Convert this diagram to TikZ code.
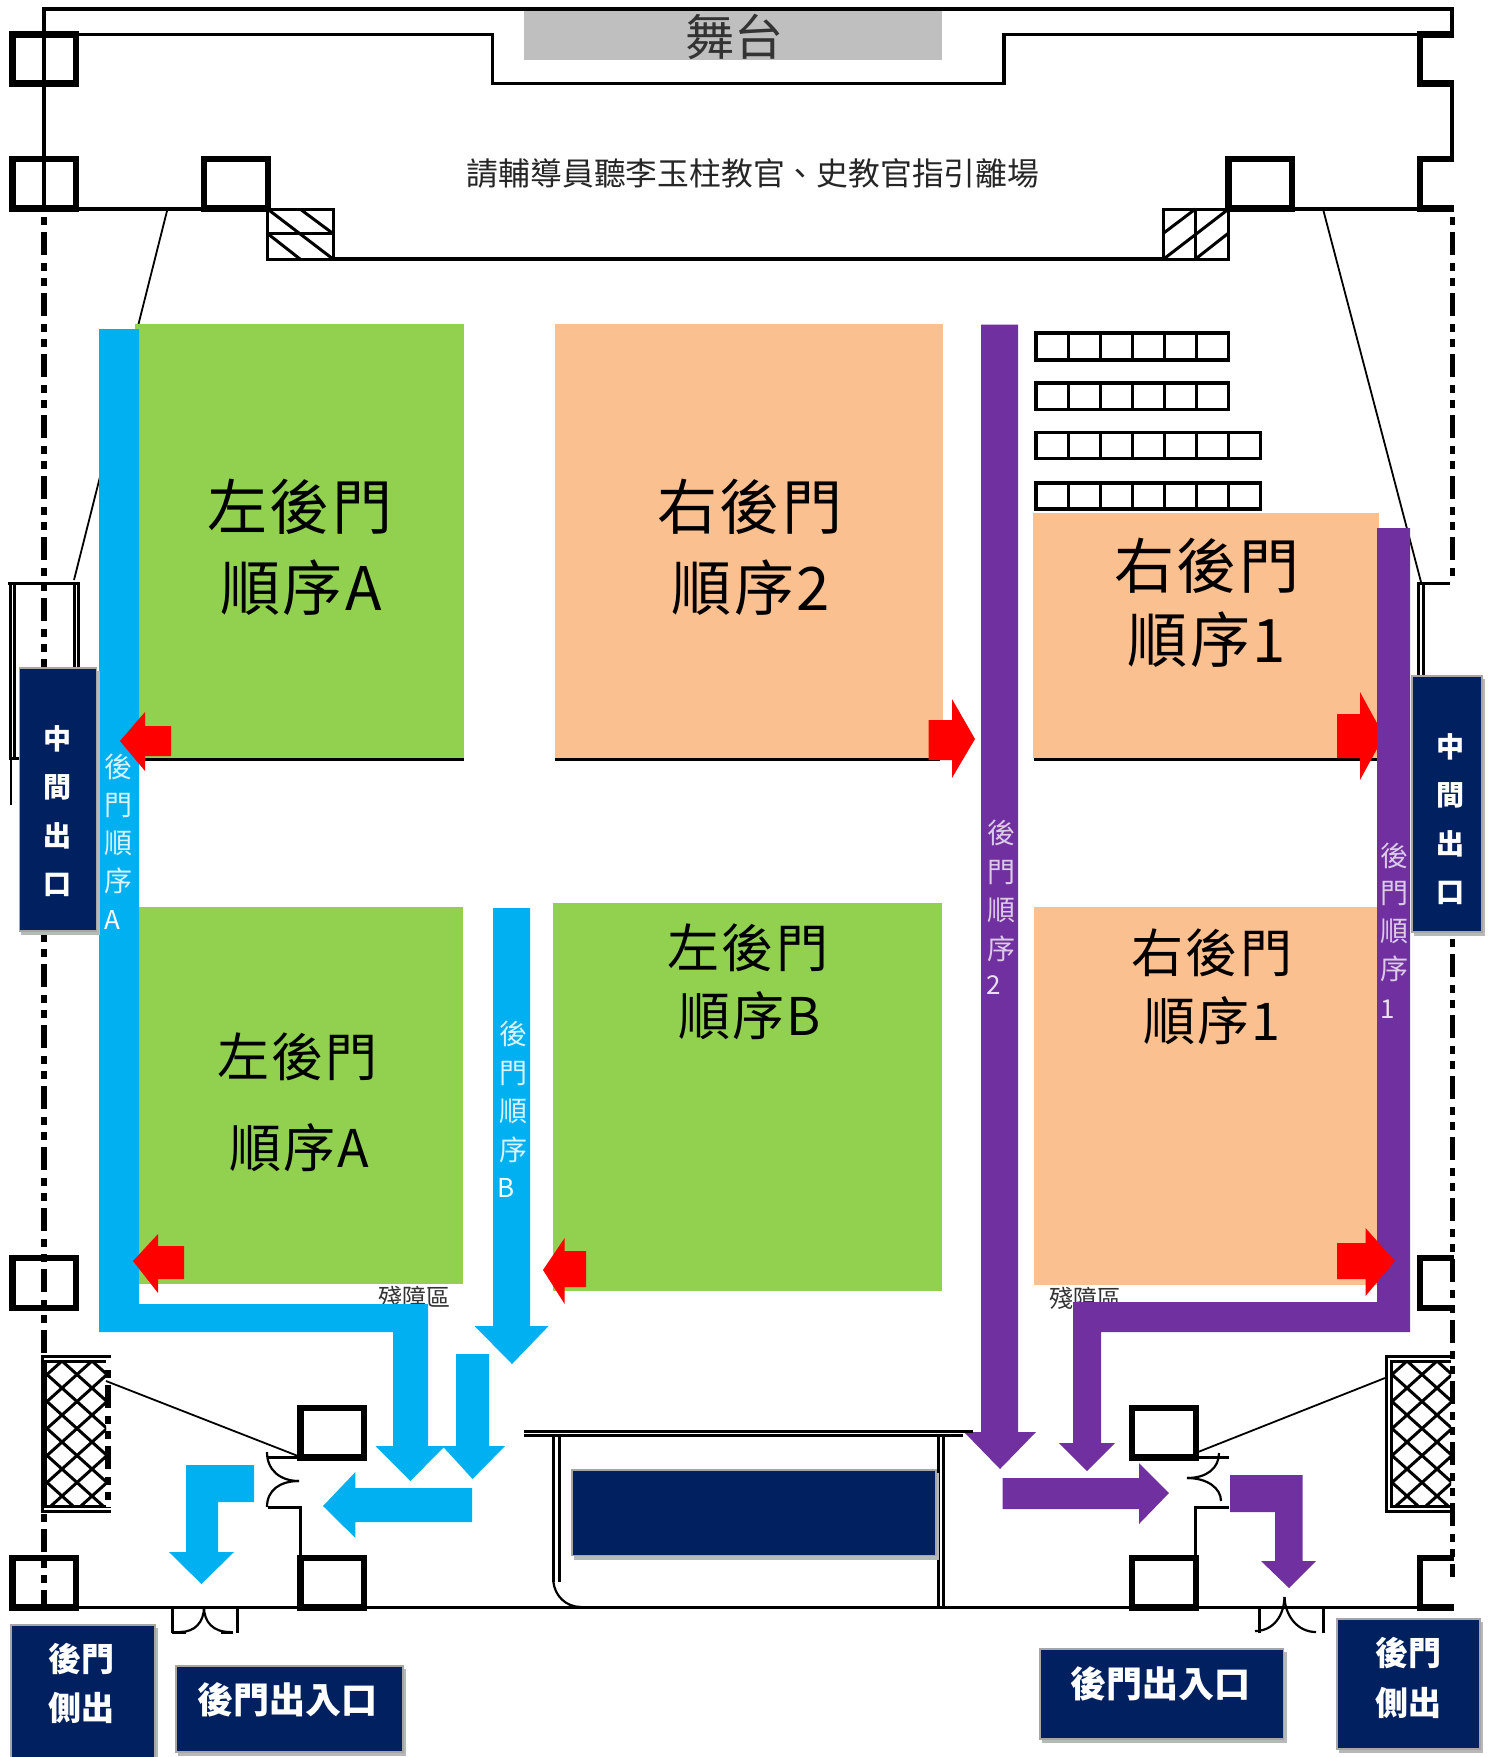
\documentclass[tikz,border=0pt]{standalone}
\usepackage{fontspec}
\setmainfont{Noto Sans CJK TC}
\newfontfamily\widefont[LetterSpace=4]{Noto Sans CJK TC}
\usetikzlibrary{calc}
\definecolor{cblue}{HTML}{00B0F0}
\definecolor{cpurple}{HTML}{7030A0}
\definecolor{cgreen}{HTML}{92D050}
\definecolor{corange}{HTML}{FAC090}
\definecolor{cnavy}{HTML}{002060}
\definecolor{cgray}{HTML}{BFBFBF}
\newcommand{\fs}[1]{\fontsize{#1}{#1}\selectfont}
\tikzset{
  wall/.style={draw=black,line width=3.2pt,line join=miter},
  thin wall/.style={draw=black,line width=3pt},
  pillar/.style={draw=black,line width=6.5pt,line join=miter},
  dashwall/.style={draw=black,line width=5.8pt,dash pattern=on 23pt off 8pt on 8pt off 7pt on 8pt off 7pt,dash phase=46pt},
  seat/.style={draw=black,line width=3.2pt},
  leader/.style={draw=black,line width=1.8pt},
  door/.style={draw=black,line width=2.2pt},
  blue/.style={fill=cblue,draw=none},
  purple/.style={fill=cpurple,draw=none},
  red/.style={fill=red,draw=none},
  navy/.style={fill=cnavy,draw=black!35,line width=1.2pt},
  shadow/.style={fill=black!28,draw=none},
  big/.style={inner sep=0pt,align=center,text=black},
  side/.style={inner sep=0pt,align=center,text=white},
  route/.style={inner sep=0pt,align=center},
}
\newcommand{\navybox}[4]{%
  \fill[shadow] (#1+2,#2+3) rectangle (#3+3,#4+4);
  \filldraw[navy] (#1,#2) rectangle (#3,#4);}
\begin{document}
\begin{tikzpicture}[x=1pt,y=-1pt]
\useasboundingbox (0,0) rectangle (1493,1757);
\fill[white] (0,0) rectangle (1493,1757);
% stage
\fill[cgray] (524,11) rectangle (942,60);
\node[inner sep=0pt,text=black!80] (stage) at (734,37) {\fs{49}舞台};
\draw[wall] (44,211) -- (44,9) -- (1452,9) -- (1452,34);
\draw[wall] (79,34.4) -- (492.7,34.4) -- (492.7,83.8) -- (1004,83.8) -- (1004,34.4) -- (1419,34.4);
\draw[wall] (1452,86) -- (1452,156);
\draw[wall] (79,209) -- (201,209);
\draw[wall] (1295,209) -- (1419,209);
\draw[wall] (333,259) -- (1163.7,259);
% hatches
\draw[thin wall] (267.5,209) rectangle (333,259) (267.5,233.5) -- (333,233.5);
\draw[thin wall] (267.5,209) -- (333,259) (300,209) -- (333,233.5) (267.5,233.5) -- (300,259);
\draw[thin wall] (1163.7,209) rectangle (1228.6,259) (1195.5,209) -- (1195.5,259);
\draw[thin wall] (1163.7,259) -- (1228.6,209) (1163.7,233) -- (1195.5,209) (1195.5,259) -- (1228.6,233);
\node[inner sep=0pt,text=black!85] (notice) at (753,174) {\fs{31.8}請輔導員聽李玉柱教官、史教官指引離場};
% pillars
\draw[pillar] (12.6,34.4) rectangle (76,83.5);
\draw[pillar] (12.6,159) rectangle (76,208.6);
\draw[pillar] (204,159) rectangle (268,208.6);
\draw[pillar] (1228.6,159) rectangle (1292.2,208.6);
\draw[pillar] (1454,34.4) -- (1420,34.4) -- (1420,83.5) -- (1454,83.5);
\draw[pillar] (1454,159) -- (1420,159) -- (1420,208.6) -- (1454,208.6);
\draw[pillar] (12.6,1258) rectangle (76,1308);
\draw[pillar] (12.6,1558) rectangle (76,1607.7);
\draw[pillar] (300.5,1408) rectangle (364,1457.7);
\draw[pillar] (300.5,1558) rectangle (364,1607.7);
\draw[pillar] (1132,1408) rectangle (1196.2,1457.7);
\draw[pillar] (1132,1558) rectangle (1196.2,1607.7);
\draw[pillar] (1454,1258) -- (1420,1258) -- (1420,1308) -- (1454,1308);
\draw[pillar] (1454,1558) -- (1420,1558) -- (1420,1607.7) -- (1454,1607.7);
% outer dashed walls
\draw[dashwall] (44,217) -- (44,1355);
\draw[dashwall] (44,1514) -- (44,1610);
\draw[dashwall] (107.7,1370) -- (107.7,1508);
\draw[dashwall] (1452.5,217) -- (1452.5,577);
\draw[dashwall] (1452.5,939) -- (1452.5,1577);
% side exits
\draw[thin wall] (8,583) -- (80,583) (10,583) -- (10,758) (14,583) -- (14,758) (74,583) -- (74,670) (78,583) -- (78,670) (9,758) -- (20,758);
\draw[door] (11,758) -- (11,805);
\draw[thin wall] (1450,583) -- (1418,583) -- (1418,677) (1423,583) -- (1423,677);
% leaders
\draw[leader] (167.5,209) -- (74,580);
\draw[leader] (1323,209) -- (1421,582);
% cross-hatched grids
\begin{scope}
  \clip (45.7,1361) rectangle (106,1506);
  \foreach \i in {-8,...,8}{
    \draw[black,line width=3pt] ({62+\i*30},1361) -- ++(170,153);
    \draw[black,line width=3pt] ({62+\i*30},1361) -- ++(-170,153);
  }
\end{scope}
\begin{scope}
  \clip (1391,1361) rectangle (1451,1506);
  \foreach \i in {-8,...,8}{
    \draw[black,line width=3pt] ({1407+\i*30},1361) -- ++(170,153);
    \draw[black,line width=3pt] ({1407+\i*30},1361) -- ++(-170,153);
  }
\end{scope}
\draw[thin wall] (106,1361) -- (45.7,1361) -- (45.7,1506) -- (106,1506);
\draw[thin wall] (1451,1361) -- (1391,1361) -- (1391,1506) -- (1451,1506);
\draw[thin wall] (111,1356) -- (42,1356) -- (42,1511) -- (111,1511);
\draw[thin wall] (1452,1356) -- (1386,1356) -- (1386,1511) -- (1452,1511);
\draw[leader] (106,1381) -- (298,1456);
\draw[leader] (1385,1378) -- (1198,1452);
% areas
\fill[cgreen] (135,324) rectangle (464,758);
\fill[corange] (555,324) rectangle (943,758);
\fill[corange] (1033,513) rectangle (1379,758);
\fill[cgreen] (139,907) rectangle (463,1284);
\fill[cgreen] (553,902.5) rectangle (941.5,1291);
\fill[corange] (1034,907) rectangle (1381,1285);
\draw[thin wall] (139,759) -- (464,759) (555,759.5) -- (940,759.5) (1034,759) -- (1380,759);
% seats
\foreach \y/\h/\n in {333/27/6,383/26.5/6,432.5/26/7,483/26/7}{
  \draw[seat] (1036,\y) rectangle ({1036+\n*32.1},\y+\h);
  \foreach \k in {1,...,\n}{
    \draw[seat] ({1036+\k*32.1},\y) -- ({1036+\k*32.1},\y+\h);
  }
}
\fill[corange] (1033,513) rectangle (1379,530);
% area labels
\tikzset{biga/.style={big,font=\widefont\fs{60}},bigb/.style={big,font=\widefont\fs{52}}}
\node[biga] (la1) at (300,507) {左後門};
\node[biga] (la2) at (301,588) {順序A};
\node[biga] (lb1) at (750,507) {右後門};
\node[biga] (lb2) at (751,588) {順序2};
\node[biga] (lc1) at (1207,566) {右後門};
\node[biga] (lc2) at (1207,640) {順序1};
\node[bigb] (ld1) at (297.5,1057) {左後門};
\node[bigb] (ld2) at (299,1148) {順序A};
\node[bigb] (le1) at (748,948) {左後門};
\node[bigb] (le2) at (750,1016) {順序B};
\node[bigb] (lf1) at (1212,953) {右後門};
\node[bigb] (lf2) at (1212,1021) {順序1};
\node[inner sep=0pt,text=black!80] (acc1) at (414,1297) {\fs{24}殘障區};
\node[inner sep=0pt,text=black!80] (acc2) at (1085,1298) {\fs{24}殘障區};
% red arrow behind the route
\fill[red] (1337,714) -- (1360,714) -- (1360,692) -- (1384,736) -- (1360,780) -- (1360,758) -- (1337,758) -- cycle;
% blue routes
\fill[blue] (99,329) -- (139,329) -- (139,1304) -- (428,1304) -- (428,1446) -- (445,1446) -- (410.4,1481) -- (375.5,1446) -- (393,1446) -- (393,1332) -- (99,1332) -- cycle;
\fill[blue] (456,1354) -- (489,1354) -- (489,1446) -- (505,1446) -- (472.6,1479) -- (442.4,1446) -- (456,1446) -- cycle;
\fill[blue] (493,908) -- (530,908) -- (530,1326) -- (548.6,1326) -- (512,1364) -- (474.5,1326) -- (493,1326) -- cycle;
\fill[blue] (472,1488) -- (355.4,1488) -- (355.4,1472) -- (323,1506) -- (355.4,1538) -- (355.4,1522) -- (472,1522) -- cycle;
\fill[blue] (254,1465) -- (186,1465) -- (186,1552) -- (169,1552) -- (201.4,1584) -- (234,1552) -- (218,1552) -- (218,1502) -- (254,1502) -- cycle;
% purple routes
\begin{scope}[xshift=-1pt]
\fill[purple] (982,324.5) -- (1019,324.5) -- (1019,1432) -- (1037,1432) -- (1001,1469) -- (965,1432) -- (982,1432) -- cycle;
\fill[purple] (1378,528) -- (1411,528) -- (1411,1332) -- (1102,1332) -- (1102,1443) -- (1116,1443) -- (1088,1471) -- (1060,1443) -- (1074,1443) -- (1074,1302) -- (1378,1302) -- cycle;
\fill[purple] (1003.5,1478) -- (1140,1478) -- (1140,1463) -- (1170,1493) -- (1140,1524) -- (1140,1509) -- (1003.5,1509) -- cycle;
\fill[purple] (1231,1475) -- (1303.5,1475) -- (1303.5,1561) -- (1317,1561) -- (1290,1588) -- (1262,1561) -- (1276,1561) -- (1276,1512) -- (1231,1512) -- cycle;
\end{scope}
% red arrows
\fill[red] (171,726) -- (145,726) -- (145,712) -- (120,741) -- (145,771) -- (145,756) -- (171,756) -- cycle;
\fill[red] (184,1246) -- (158,1246) -- (158,1234) -- (133,1261) -- (158,1293) -- (158,1279) -- (184,1279) -- cycle;
\fill[red] (586,1251) -- (564.6,1251) -- (564.6,1238) -- (543,1270) -- (564.6,1304) -- (564.6,1287) -- (586,1287) -- cycle;
\fill[red] (928.6,720) -- (952,720) -- (952,699) -- (975,739) -- (952,778) -- (952,760) -- (928.6,760) -- cycle;
\fill[red] (1337,1243) -- (1365.5,1243) -- (1365.5,1228) -- (1395,1261) -- (1365.5,1296) -- (1365.5,1279) -- (1337,1279) -- cycle;
% route labels
\tikzset{routelab/.style={route,text=white!85!cblue}}
\node[routelab,font=\fontsize{28}{38}\selectfont] (ra) at (118,824) {後\\門\\順\\序};
\node[inner sep=0pt,text=white] (raa) at (112,920) {\fs{26}A};
\node[routelab,font=\fontsize{28}{38.5}\selectfont] (rb) at (513,1092) {後\\門\\順\\序};
\node[inner sep=0pt,text=white] (rbb) at (506,1188) {\fs{26}B};
\node[route,text=white!75!cpurple,font=\fontsize{28}{38.5}\selectfont] (rc) at (1001,891) {後\\門\\順\\序};
\node[inner sep=0pt,text=white!85!cpurple] (rcc) at (994,985) {\fs{26}2};
\node[route,text=white!75!cpurple,font=\fontsize{28}{37.7}\selectfont] (rd) at (1394,912) {後\\門\\順\\序};
\node[inner sep=0pt,text=white!85!cpurple] (rdd) at (1388,1009) {\fs{26}1};
% doors
\draw[thin wall] (298,1457) -- (267,1457) (268,1507) -- (300.5,1507) -- (300.5,1556);
\draw[door] (267,1452) .. controls (267,1470) and (280,1481) .. (299,1481);
\draw[door] (299,1481) .. controls (280,1481) and (267,1490) .. (267,1507);
\draw[thin wall] (1198,1457) -- (1229,1457) (1229,1507) -- (1195.5,1507) -- (1195.5,1556);
\draw[door] (1219,1453) .. controls (1219,1468) and (1207,1478) .. (1187,1478);
\draw[door] (1187,1478) .. controls (1207,1478) and (1221,1488) .. (1221,1501);
\draw[thin wall] (79,1607) -- (1420,1607);
\draw[thin wall] (172,1607) -- (172,1633) (237,1607) -- (237,1633) (172,1632) -- (186,1632) (221,1632) -- (233,1632);
\draw[door] (204,1607) .. controls (204,1622) and (195,1632) .. (180,1632);
\draw[door] (204,1607) .. controls (204,1622) and (213,1632) .. (230,1632);
\draw[thin wall] (1259.4,1607) -- (1259.4,1633) (1323.4,1607) -- (1323.4,1633);
\draw[door] (1284.5,1597) .. controls (1284,1615) and (1274,1631) .. (1255,1631);
\draw[door] (1284.5,1597) .. controls (1285,1615) and (1297,1632) .. (1316,1632);
% inner room
\draw[thin wall] (524,1431) -- (973,1431) (524,1435.5) -- (963,1435.5);
\draw[thin wall] (553.4,1435) -- (553.4,1582) (559,1435) -- (559,1582) (938,1435) -- (938,1607) (943.5,1435) -- (943.5,1607);
\draw[door] (553.4,1582) .. controls (555,1596) and (566,1607) .. (581,1607);
% navy boxes
\navybox{572}{1470}{936}{1555.7}
\navybox{19.3}{668}{96.7}{931}
\navybox{1412}{676}{1482}{932}
\navybox{11}{1625}{155}{1770}
\navybox{176}{1666}{403}{1752}
\navybox{1040}{1649}{1283.6}{1739}
\navybox{1337}{1619}{1480}{1749}
\node[side,font=\fontsize{28}{48.5}\selectfont\bfseries] (x1) at (57,811) {中\\間\\出\\口};
\node[side,font=\fontsize{28}{48.3}\selectfont\bfseries] (x2) at (1450,819) {中\\間\\出\\口};
\node[side,font=\fontsize{33}{49}\selectfont\bfseries] (x3) at (81,1683.5) {後門\\側出};
\node[side,font=\fontsize{33}{50}\selectfont\bfseries] (x4) at (1408,1678) {後門\\側出};
\node[side,font=\fs{36}\bfseries] (x5) at (287,1700) {後門出入口};
\node[side,font=\fs{36}\bfseries] (x6) at (1160,1684) {後門出入口};
\end{tikzpicture}
\end{document}
